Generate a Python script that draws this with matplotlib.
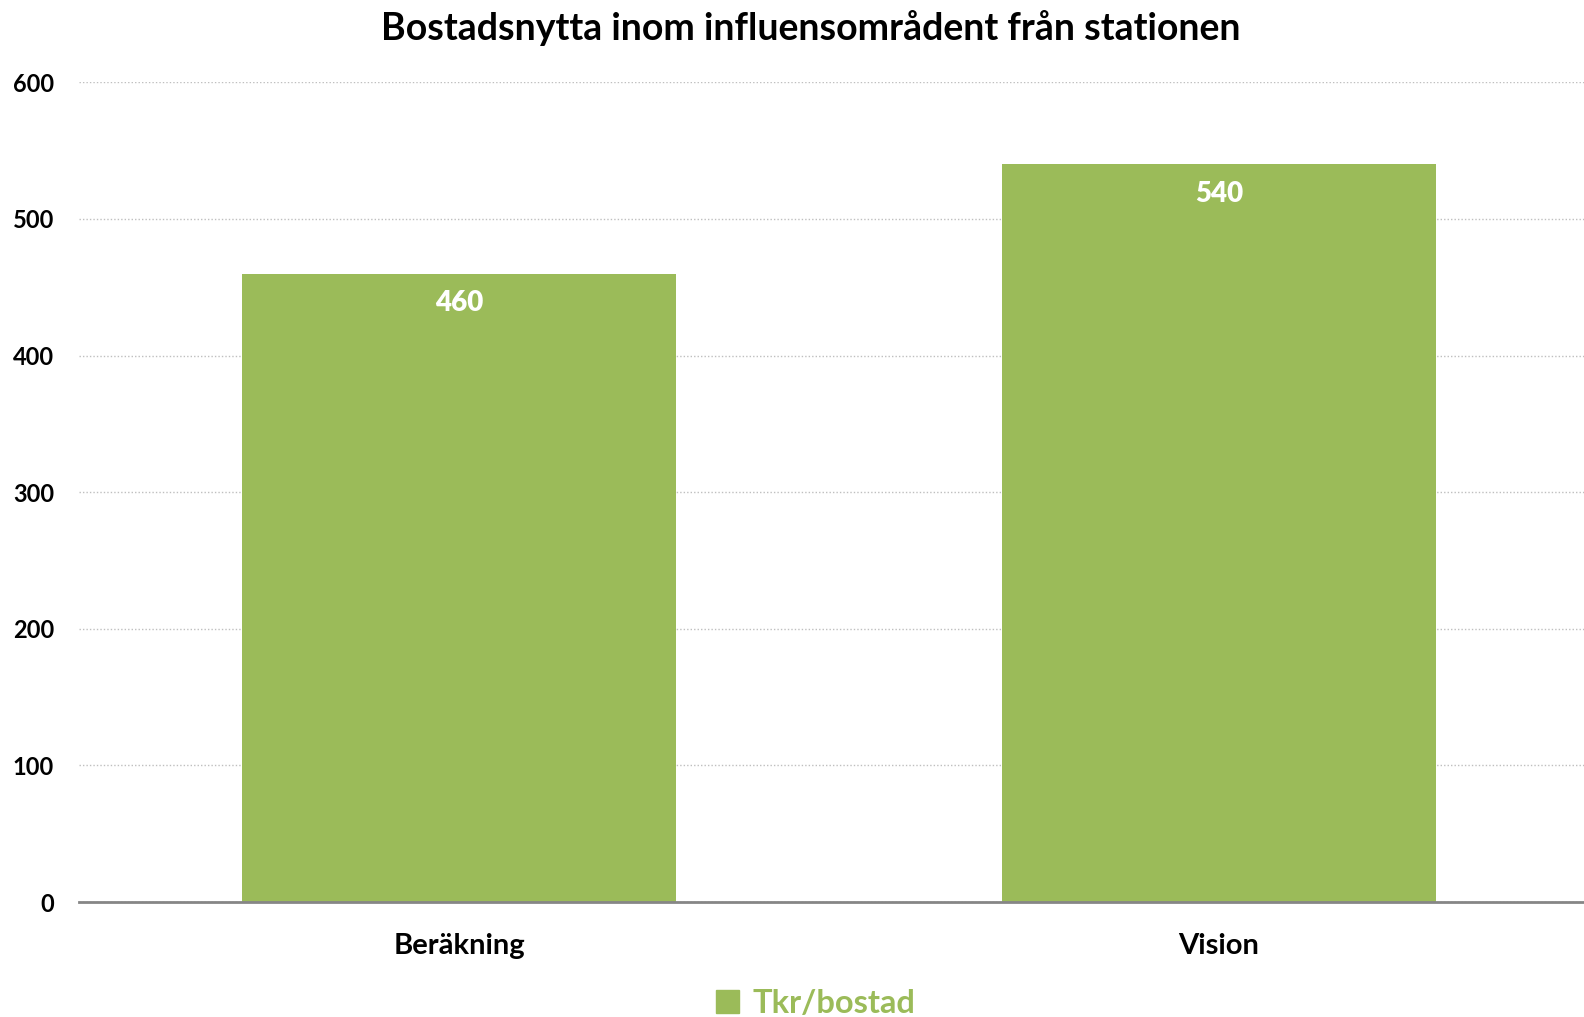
import numpy as np
import matplotlib.pyplot as plt
from matplotlib.patches import Patch

# Data
kategorier = ["Beräkning", "Vision"]
tkr_per_bostad = [460, 540]
y_ticks = [0, 100, 200, 300, 400, 500, 600]

gron = "#9BBB59"
plt.rcParams['font.family'] = ['Lato', 'DejaVu Sans']
plt.rcParams['font.weight'] = 'bold'

fig = plt.figure(figsize=(15.84, 10.17), dpi=100)
# axeln fortsätter lite utanför högerkanten
ax = fig.add_axes([0.0499, 0.113, 0.9596, 0.806])

x = np.arange(len(kategorier))
staplar = ax.bar(x, tkr_per_bostad, width=0.572, color=gron, zorder=3)

for s, v in zip(staplar, tkr_per_bostad):
    ax.text(s.get_x() + s.get_width() / 2, v - 12, f"{v}", ha="center", va="top",
            color="white", fontsize=20, fontweight="heavy", zorder=4)

ax.set_xlim(-0.5, 1.5)
ax.set_ylim(0, 600)
ax.set_yticks(y_ticks, labels=[str(v) for v in y_ticks], fontweight="bold", fontsize=17)
ax.set_xticks(x, labels=kategorier, fontweight="bold", fontsize=21)
ax.tick_params(axis="y", length=0, pad=18)
ax.tick_params(axis="x", length=0, pad=22)

ax.yaxis.grid(True, linestyle=(0, (1, 1.5)), color="#BFBFBF", linewidth=1, zorder=0)
for side in ["top", "right", "left"]:
    ax.spines[side].set_visible(False)
ax.spines["bottom"].set_color("#868686")
ax.spines["bottom"].set_linewidth(2)
ax.spines["bottom"].set_zorder(5)

fig.suptitle("Bostadsnytta inom influensområdent från stationen", x=0.512, y=0.972,
             fontsize=27, fontweight="bold", va="center")

leg = fig.legend(handles=[Patch(color=gron, label="Tkr/bostad")], loc="center",
                 bbox_to_anchor=(0.515, 0.013), frameon=False, handlelength=0.7,
                 handleheight=0.7, handletextpad=0.4, fontsize=23.5)
for t in leg.get_texts():
    t.set_color(gron)
    t.set_fontweight("bold")

fig.savefig("out.png", dpi=100)
